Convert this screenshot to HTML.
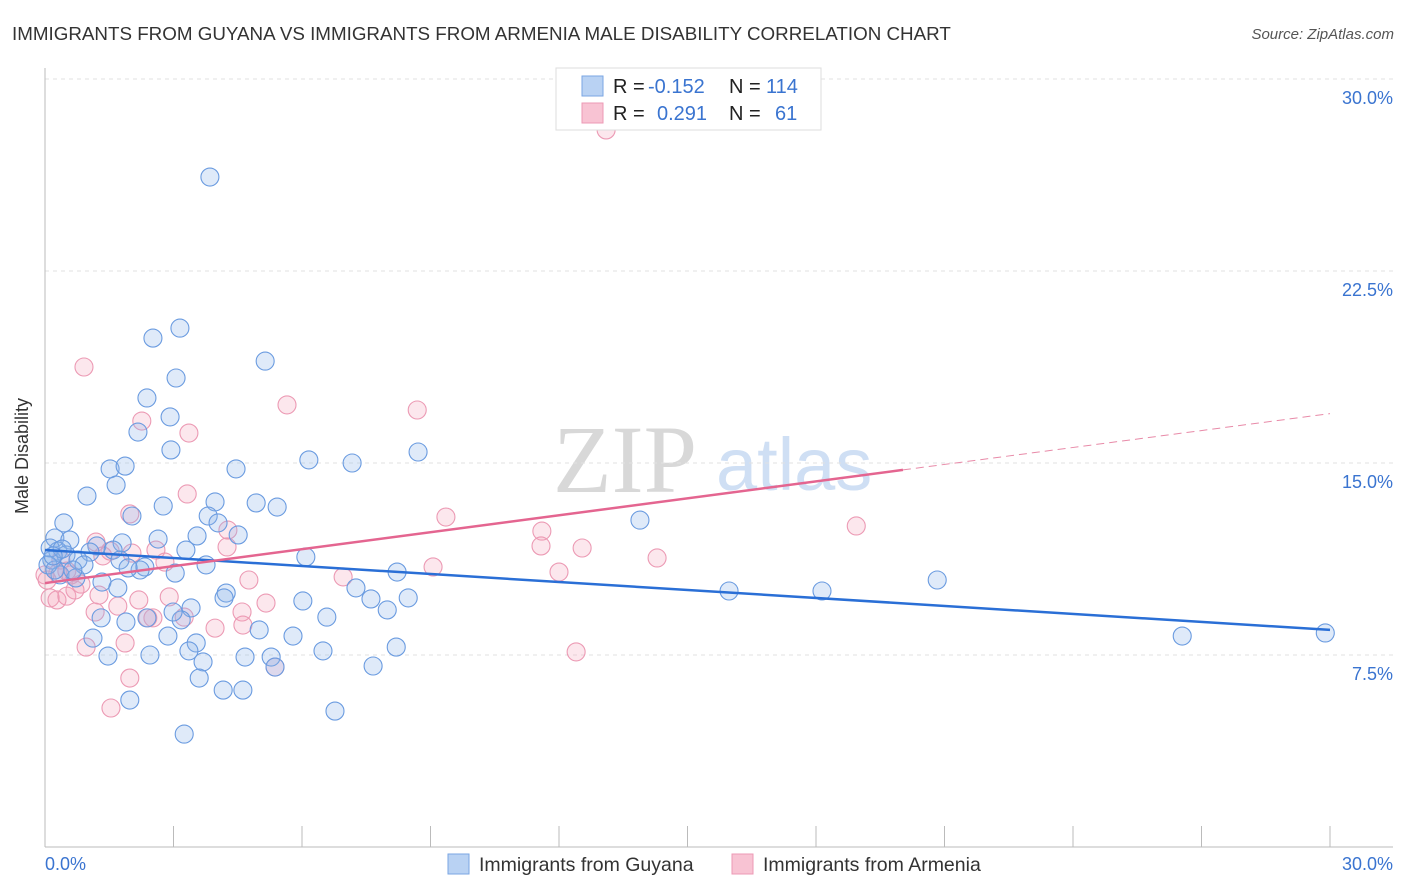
<!DOCTYPE html>
<html><head><meta charset="utf-8"><style>
body{margin:0;background:#fff;font-family:"Liberation Sans",sans-serif;}
svg{display:block}
</style></head><body>
<svg id="chart" width="1406" height="892" xmlns="http://www.w3.org/2000/svg">
<text x="12" y="40" font-size="18.8" fill="#333">IMMIGRANTS FROM GUYANA VS IMMIGRANTS FROM ARMENIA MALE DISABILITY CORRELATION CHART</text>
<text x="1394" y="39" font-size="15" fill="#555" font-style="italic" text-anchor="end">Source: ZipAtlas.com</text>
<g>
<text x="553" y="492" font-size="96" font-family="Liberation Serif" fill="#d8d8d8">ZIP</text>
<text x="716" y="490" font-size="74" fill="#cfdff4">atlas</text>
</g>
<g id="grid"></g>
<g id="axes"></g>
<g id="marks"></g>
<text x="28" y="456" font-size="18" fill="#333" transform="rotate(-90 28 456)" text-anchor="middle">Male Disability</text>
<g>
<rect x="556" y="68" width="265" height="62" fill="#fff" stroke="#ddd"/>
<rect x="582" y="76" width="21" height="20" fill="#b9d2f3" stroke="#7aa6e3"/>
<rect x="582" y="103" width="21" height="20" fill="#f8c3d3" stroke="#ec9ab4"/>
<text x="613" y="93" font-size="20" fill="#222">R = <tspan x="648" fill="#3a74d0">-0.152</tspan><tspan x="729">N = </tspan><tspan x="766" fill="#3a74d0">114</tspan></text>
<text x="613" y="120" font-size="20" fill="#222">R = <tspan x="657" fill="#3a74d0">0.291</tspan><tspan x="729">N = </tspan><tspan x="775" fill="#3a74d0">61</tspan></text>
</g>
<g>
<rect x="448" y="854" width="21" height="20" fill="#b9d2f3" stroke="#7aa6e3"/>
<text x="479" y="871" font-size="19.5" fill="#333">Immigrants from Guyana</text>
<rect x="732" y="854" width="21" height="20" fill="#f8c3d3" stroke="#ec9ab4"/>
<text x="763" y="871" font-size="19.5" fill="#333">Immigrants from Armenia</text>
</g>
</svg>
<script>
const yTicks=[7.5,15,22.5,30];
const yTickLabels=["7.5%","15.0%","22.5%","30.0%"];
const xTickVals=[0,3,6,9,12,15,18,21,24,27,30];
const xEndLabels=["0.0%","30.0%"];
const guyanaX=[3.85,3.15,2.52,5.14,3.06,2.38,2.92,2.17,2.94,8.71,6.16,7.17,1.52,1.87,4.46,1.66,0.98,3.97,4.93,2.76,5.42,2.03,3.81,4.04,13.89,0.44,4.51,2.64,3.55,0.23,0.58,3.29,1.80,6.09,1.21,1.59,1.05,1.75,2.33,0.30,0.49,0.77,0.91,2.22,1.94,0.16,0.35,0.72,3.04,3.76,8.22,0.65,1.33,1.70,15.97,18.14,20.83,7.26,4.23,4.18,7.61,8.48,6.02,3.41,2.38,3.18,1.31,1.89,7.99,6.58,2.99,5.00,5.79,2.87,1.12,3.53,26.55,29.89,2.45,1.47,3.36,4.67,5.28,6.49,8.20,3.69,7.66,5.37,3.60,4.16,4.62,1.98,6.77,3.25,0.12,0.07,0.23,0.40,0.19];
const guyanaY=[26.17,20.27,19.88,18.98,18.32,17.54,16.80,16.21,15.51,15.43,15.12,15.00,14.77,14.88,14.77,14.14,13.71,13.48,13.44,13.32,13.28,12.93,12.93,12.66,12.77,12.66,12.19,12.03,12.15,12.07,11.99,11.60,11.88,11.33,11.76,11.60,11.52,11.21,10.94,11.56,11.41,11.21,11.02,10.82,10.90,11.21,10.63,10.51,10.70,11.02,10.74,10.82,10.35,10.12,10.00,10.00,10.43,10.12,9.92,9.73,9.69,9.73,9.61,9.34,8.95,8.87,8.95,8.79,9.26,8.98,9.18,8.48,8.24,8.24,8.16,7.97,8.24,8.36,7.50,7.46,7.66,7.42,7.42,7.66,7.81,7.23,7.07,7.03,6.60,6.13,6.13,5.74,5.31,4.41,11.68,11.02,10.82,11.64,11.37];
const armeniaX=[13.10,0.91,5.65,8.69,2.26,3.36,3.32,1.98,9.36,11.60,12.54,11.58,14.29,18.94,4.27,4.25,2.59,1.19,1.35,1.52,2.03,2.80,0.37,0.61,0.05,0.30,0.84,0.51,1.26,6.96,4.76,9.06,12.00,0.12,0.28,0.51,1.17,1.70,2.19,2.90,3.25,4.60,5.16,2.52,1.87,0.96,3.97,4.62,5.37,1.98,1.54,12.40,2.40,0.0,0.70];
const armeniaY=[28.01,18.75,17.27,17.07,16.64,16.17,13.79,13.01,12.89,12.34,11.68,11.76,11.29,12.54,12.38,11.72,11.60,11.91,11.37,11.56,11.48,11.13,11.21,10.63,10.43,10.70,10.27,10.78,9.84,10.55,10.43,10.94,10.74,9.73,9.65,9.80,9.18,9.41,9.65,9.77,8.98,9.18,9.53,8.95,7.97,7.81,8.55,8.67,7.03,6.60,5.43,7.62,8.95,10.63,10.04];
const guyanaTrend=[11.6,8.48];
const armeniaTrend=[10.31,16.93];
const armeniaSolidEnd=20.03;

const NS="http://www.w3.org/2000/svg";
const X0=45,X1=1330,Y0=847,YPER=25.6;
const xs=v=>X0+(v/30)*(X1-X0);
const ys=v=>Y0-v*YPER;
function mk(t,a,p){const e=document.createElementNS(NS,t);for(const k in a)e.setAttribute(k,a[k]);p.appendChild(e);return e;}
const grid=document.getElementById('grid'),axes=document.getElementById('axes'),marks=document.getElementById('marks');
yTicks.forEach((v,i)=>{
 const l=mk('line',{x1:X0,x2:1393,y1:ys(v),y2:ys(v),stroke:'#e2e2e2','stroke-dasharray':'4,4'},grid);
 
 
 const t=mk('text',{x:1393,y:ys(v)+25,'font-size':18,fill:'#3a74d0','text-anchor':'end'},axes);
 t.textContent=yTickLabels[i];
 
 
});
let a=mk('line',{x1:X0,x2:X0,y1:68,y2:Y0,stroke:'#bbb'},axes);


a=mk('line',{x1:X0,x2:1393,y1:Y0,y2:Y0,stroke:'#bbb'},axes);


xTickVals.forEach(v=>{
 const l=mk('line',{x1:xs(v),x2:xs(v),y1:826,y2:Y0,stroke:'#bbb'},axes);
 
 
});
let t=mk('text',{x:45,y:870,'font-size':18,fill:'#3a74d0'},axes);t.textContent=xEndLabels[0];


t=mk('text',{x:1393,y:870,'font-size':18,fill:'#3a74d0','text-anchor':'end'},axes);t.textContent=xEndLabels[1];


armeniaX.forEach((v,i)=>{
 const c=mk('circle',{cx:xs(v),cy:ys(armeniaY[i]),r:9,fill:'rgba(244,160,185,0.25)',stroke:'#ec9ab4','stroke-width':1.1},marks);
 
 
});
guyanaX.forEach((v,i)=>{
 const c=mk('circle',{cx:xs(v),cy:ys(guyanaY[i]),r:9,fill:'rgba(140,180,235,0.28)',stroke:'#6a9be0','stroke-width':1.1},marks);
 
 
});
const sl=(armeniaTrend[1]-armeniaTrend[0])/30;
let ln=mk('line',{x1:xs(0),y1:ys(guyanaTrend[0]),x2:xs(30),y2:ys(guyanaTrend[1]),stroke:'#2a6fd6','stroke-width':2.5},marks);


ln=mk('line',{x1:xs(0),y1:ys(armeniaTrend[0]),x2:xs(armeniaSolidEnd),y2:ys(armeniaTrend[0]+sl*armeniaSolidEnd),stroke:'#e46590','stroke-width':2.5},marks);


ln=mk('line',{x1:xs(armeniaSolidEnd),y1:ys(armeniaTrend[0]+sl*armeniaSolidEnd),x2:xs(30),y2:ys(armeniaTrend[1]),stroke:'#e88aa8','stroke-width':1,'stroke-dasharray':'8,5'},marks);


</script>
</body></html>
